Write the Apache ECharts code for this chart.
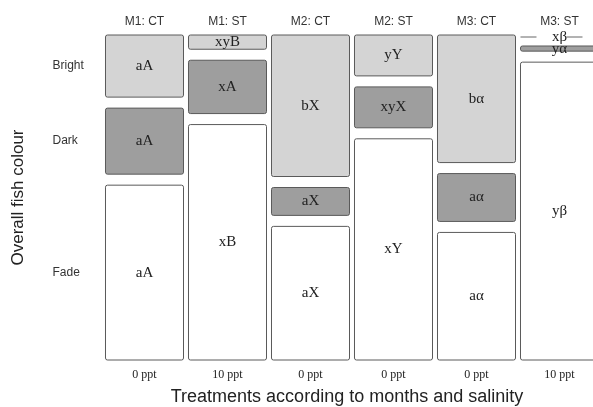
<!DOCTYPE html>
<html>
<head>
<meta charset="utf-8">
<script src="https://cdn.jsdelivr.net/npm/echarts@6/dist/echarts.min.js"></script>
<style>
html,body{margin:0;padding:0;background:#fff;}
#chart{width:593px;height:407px;}
</style>
</head>
<body>
<div id="chart"></div>
<script>
// ---- data (percent of fish per treatment) ----
const treatments = ['M1: CT', 'M1: ST', 'M2: CT', 'M2: ST', 'M3: CT', 'M3: ST'];
const salinity = ['0 ppt', '10 ppt', '0 ppt', '0 ppt', '0 ppt', '10 ppt'];
const colourClasses = ['Bright', 'Dark', 'Fade'];
const brightPct = [20.5, 4.7, 46.7, 13.5, 42.1, 0];
const darkPct = [21.8, 17.6, 9.2, 13.5, 15.8, 1.7];
const fadePct = [57.7, 77.7, 44.1, 73.0, 42.1, 98.3];
const brightLetters = ['aA', 'xyB', 'bX', 'yY', 'bα', 'xβ'];
const darkLetters = ['aA', 'xA', 'aX', 'xyX', 'aα', 'yα'];
const fadeLetters = ['aA', 'xB', 'aX', 'xY', 'aα', 'yβ'];

const GAP = 3.63; // gap between tiles, in percent units
const fills = { Bright: '#d4d4d4', Dark: '#9e9e9e', Fade: '#ffffff' };

const seriesData = treatments.map((t, i) => [i, brightPct[i], darkPct[i], fadePct[i]]);

function renderItem(params, api) {
  const i = api.value(0);
  const B = api.value(1), D = api.value(2), F = api.value(3);
  const w = api.size([1, 0])[0] * 0.94;
  const cx = api.coord([i, 0])[0];
  const segs = [
    { name: colourClasses[2], lo: 0, hi: F, label: fadeLetters[i] },
    { name: colourClasses[1], lo: F + GAP, hi: F + GAP + D, label: darkLetters[i] },
    { name: colourClasses[0], lo: F + D + 2 * GAP, hi: F + D + B + 2 * GAP, label: brightLetters[i] }
  ];
  const children = [];
  segs.forEach(s => {
    const pLo = api.coord([i, s.lo]);
    const pHi = api.coord([i, s.hi]);
    const h = pLo[1] - pHi[1];
    const yMid = (pLo[1] + pHi[1]) / 2;
    const empty = s.hi - s.lo <= 0;
    if (empty) {
      children.push({
        type: 'line',
        shape: { x1: cx - w / 2, y1: pHi[1] + 2, x2: cx + w / 2, y2: pHi[1] + 2 },
        style: { stroke: '#666', lineWidth: 1, lineDash: [16, 30] }
      });
    } else {
      children.push({
        type: 'rect',
        shape: { x: cx - w / 2, y: pHi[1], width: w, height: h, r: 2 },
        style: { fill: fills[s.name], stroke: '#5a5a5a', lineWidth: 1 }
      });
    }
    children.push({
      type: 'text',
      z2: 10,
      style: {
        text: s.label,
        x: cx,
        y: empty ? pHi[1] + 2 : yMid,
        align: 'center',
        verticalAlign: 'middle',
        font: '15px "Liberation Serif", "DejaVu Serif", serif',
        fill: '#222'
      }
    });
    if (i === 0) {
      children.push({
        type: 'text',
        style: {
          text: s.name,
          x: cx - w / 2 - 53,
          y: yMid,
          align: 'left',
          verticalAlign: 'middle',
          font: '12px "Liberation Sans", Arial, sans-serif',
          fill: '#333'
        }
      });
    }
  });
  return { type: 'group', children: children };
}

const chart = echarts.init(document.getElementById('chart'), null, { renderer: 'canvas' });
chart.setOption({
  animation: false,
  backgroundColor: '#fff',
  grid: { left: 103, top: 35, width: 498, height: 325, containLabel: false, outerBoundsMode: 'none' },
  xAxis: [
    {
      type: 'category',
      data: salinity.map((s, i) => i),
      position: 'bottom',
      axisLine: { show: false }, axisTick: { show: false },
      axisLabel: {
        margin: 9,
        formatter: (v, idx) => salinity[idx],
        fontFamily: '"Liberation Serif", serif', fontSize: 12, color: '#222'
      },
      name: 'Treatments according to months and salinity',
      nameLocation: 'middle',
      nameGap: 28,
      nameTextStyle: { fontFamily: '"Liberation Sans", Arial, sans-serif', fontSize: 18, color: '#222', padding: [0, 10, 0, 0] }
    },
    {
      type: 'category',
      data: treatments.map((t, i) => i),
      position: 'top',
      axisLine: { show: false }, axisTick: { show: false },
      axisLabel: {
        margin: 7,
        formatter: (v, idx) => treatments[idx],
        fontFamily: '"Liberation Sans", Arial, sans-serif', fontSize: 12, color: '#333'
      }
    }
  ],
  yAxis: {
    type: 'value', min: 0, max: 100 + 2 * GAP,
    axisLine: { show: false }, axisTick: { show: false }, axisLabel: { show: false }, splitLine: { show: false },
    name: 'Overall fish colour',
    nameLocation: 'middle',
    nameRotate: 90,
    nameGap: 76,
    nameTextStyle: { fontFamily: '"Liberation Sans", Arial, sans-serif', fontSize: 17, color: '#222' }
  },
  series: [{
    type: 'custom',
    renderItem: renderItem,
    data: seriesData,
    encode: { x: 0, y: [1, 2, 3] },
    clip: false
  }]
});
</script>
</body>
</html>
